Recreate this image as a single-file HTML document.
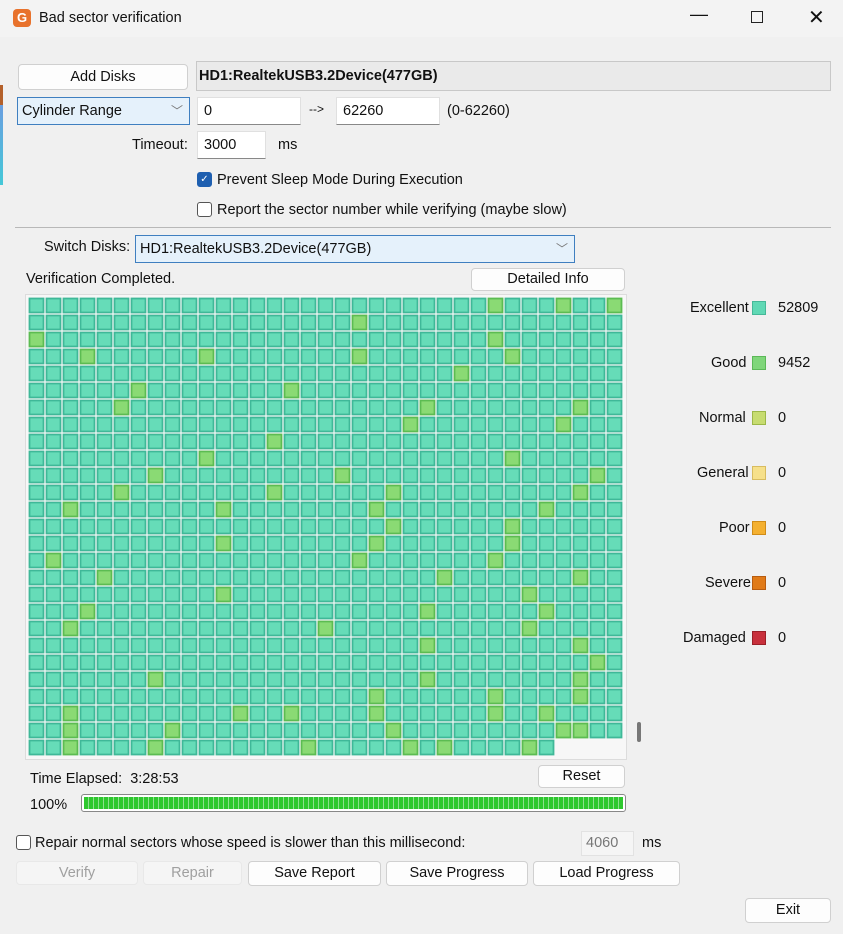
<!DOCTYPE html>
<html><head><meta charset="utf-8"><style>
*{box-sizing:border-box;margin:0;padding:0}
body{width:843px;height:934px;background:#f0f0f0;font-family:"Liberation Sans",sans-serif;font-size:14.5px;color:#111;position:relative;overflow:hidden}
.a{position:absolute;white-space:nowrap}
.btn{position:absolute;background:#fdfdfd;border:1px solid #d0d0d0;border-radius:4px;text-align:center;font-size:14.5px}
.btn.dis{background:#f5f5f5;color:#a0a0a0;border-color:#e8e8e8}
.inp{position:absolute;background:#fff;border:1px solid #e0e0e0;border-bottom:1px solid #888;padding-left:6px;font-size:14.5px}
.cb{position:absolute;width:15px;height:15px;border:1px solid #555;border-radius:3px;background:#fff}
.lg{position:absolute;width:14px;height:14px;border:1px solid}
</style></head><body>
<div class="a" style="left:0;top:0;width:843px;height:37px;background:#f3f3f3"></div>
<div class="a" style="left:13px;top:9px;width:18px;height:18px;background:#e8722c;border-radius:4px;color:#fff;font-weight:bold;font-size:13px;text-align:center;line-height:18px">G</div>
<div class="a" style="left:39px;top:10px;font-size:14.5px">Bad sector verification</div>
<div class="a" style="left:690px;top:4px;font-size:18px">—</div>
<div class="a" style="left:751px;top:11px;width:12px;height:12px;border:1.5px solid #222"></div>
<div class="a" style="left:808px;top:5px;font-size:20px">✕</div>
<div class="a" style="left:0;top:85px;width:3px;height:20px;background:#b4602a"></div>
<div class="a" style="left:0;top:105px;width:3px;height:80px;background:linear-gradient(#6a9ee0,#45c8d8)"></div>

<div class="btn" style="left:18px;top:64px;width:170px;height:26px;line-height:24px">Add Disks</div>
<div class="a" style="left:196px;top:61px;width:635px;height:30px;background:#eaeaea;border:1px solid #c8c8c8;padding-left:2px;line-height:28px;font-weight:bold">HD1:RealtekUSB3.2Device(477GB)</div>
<div class="a" style="left:17px;top:97px;width:173px;height:28px;background:#e5f1fb;border:1px solid #3f7fc0;line-height:26px;padding-left:4px">Cylinder Range<span style="position:absolute;right:6px;color:#777;font-size:12px">﹀</span></div>
<div class="inp" style="left:197px;top:97px;width:104px;height:28px;line-height:26px">0</div>
<div class="a" style="left:309px;top:102px;font-size:12px">--&gt;</div>
<div class="inp" style="left:336px;top:97px;width:104px;height:28px;line-height:26px">62260</div>
<div class="a" style="left:447px;top:103px">(0-62260)</div>
<div class="a" style="left:132px;top:137px">Timeout:</div>
<div class="inp" style="left:197px;top:131px;width:69px;height:28px;line-height:26px">3000</div>
<div class="a" style="left:278px;top:137px">ms</div>
<div class="cb" style="left:197px;top:172px;background:#1e5fb0;border-color:#1e5fb0;color:#fff;font-size:10px;text-align:center;line-height:13px">✓</div>
<div class="a" style="left:217px;top:172px">Prevent Sleep Mode During Execution</div>
<div class="cb" style="left:197px;top:202px"></div>
<div class="a" style="left:217px;top:202px">Report the sector number while verifying (maybe slow)</div>
<div class="a" style="left:15px;top:227px;width:816px;height:1px;background:#b8b8b8"></div>

<div class="a" style="left:44px;top:239px">Switch Disks:</div>
<div class="a" style="left:135px;top:235px;width:440px;height:28px;background:#e5f1fb;border:1px solid #3f7fc0;line-height:26px;padding-left:4px">HD1:RealtekUSB3.2Device(477GB)<span style="position:absolute;right:6px;color:#777;font-size:12px">﹀</span></div>
<div class="a" style="left:26px;top:271px">Verification Completed.</div>
<div class="btn" style="left:471px;top:268px;width:154px;height:23px;line-height:21px">Detailed Info</div>

<div class="a" style="left:25px;top:294px;width:602px;height:466px;background:#f7f7f7;border:1px solid #dcdcdc"></div>
<svg class="a" style="left:0;top:0" width="843" height="934" id="g"></svg>
<div class="a" style="left:637px;top:722px;width:4px;height:20px;background:#777;border-radius:2px"></div>

<div class="a" style="left:690px;top:300px">Excellent</div><div class="lg" style="left:752px;top:301px;background:#5fd8b4;border-color:#45b898"></div><div class="a" style="left:778px;top:300px">52809</div>
<div class="a" style="left:711px;top:355px">Good</div><div class="lg" style="left:752px;top:356px;background:#7fd67a;border-color:#5cb858"></div><div class="a" style="left:778px;top:355px">9452</div>
<div class="a" style="left:699px;top:410px">Normal</div><div class="lg" style="left:752px;top:411px;background:#c7dc70;border-color:#9cb848"></div><div class="a" style="left:778px;top:410px">0</div>
<div class="a" style="left:697px;top:465px">General</div><div class="lg" style="left:752px;top:466px;background:#f6e08a;border-color:#d8bc60"></div><div class="a" style="left:778px;top:465px">0</div>
<div class="a" style="left:719px;top:520px">Poor</div><div class="lg" style="left:752px;top:521px;background:#f4b030;border-color:#d08c18"></div><div class="a" style="left:778px;top:520px">0</div>
<div class="a" style="left:705px;top:575px">Severe</div><div class="lg" style="left:752px;top:576px;background:#e07a18;border-color:#b85c10"></div><div class="a" style="left:778px;top:575px">0</div>
<div class="a" style="left:683px;top:630px">Damaged</div><div class="lg" style="left:752px;top:631px;background:#c8303c;border-color:#9a2028"></div><div class="a" style="left:778px;top:630px">0</div>

<div class="a" style="left:30px;top:771px">Time Elapsed:&nbsp; 3:28:53</div>
<div class="btn" style="left:538px;top:765px;width:87px;height:23px;line-height:21px">Reset</div>
<div class="a" style="left:30px;top:797px">100%</div>
<div class="a" style="left:81px;top:794px;width:545px;height:18px;border:1px solid #888;border-radius:3px;background:#fff;padding:2px">
<div style="width:100%;height:100%;background:repeating-linear-gradient(90deg,#2ec82e 0 4px,#8ee08e 4px 5px)"></div></div>

<div class="cb" style="left:16px;top:835px"></div>
<div class="a" style="left:35px;top:835px">Repair normal sectors whose speed is slower than this millisecond:</div>
<div class="a" style="left:581px;top:831px;width:53px;height:25px;background:#f5f5f5;border:1px solid #e2e2e2;color:#777;line-height:23px;padding-left:4px">4060</div>
<div class="a" style="left:642px;top:835px">ms</div>
<div class="btn dis" style="left:16px;top:861px;width:122px;height:24px;line-height:22px">Verify</div>
<div class="btn dis" style="left:143px;top:861px;width:99px;height:24px;line-height:22px">Repair</div>
<div class="btn" style="left:248px;top:861px;width:133px;height:25px;line-height:23px">Save Report</div>
<div class="btn" style="left:386px;top:861px;width:142px;height:25px;line-height:23px">Save Progress</div>
<div class="btn" style="left:533px;top:861px;width:147px;height:25px;line-height:23px">Load Progress</div>
<div class="btn" style="left:745px;top:898px;width:86px;height:25px;line-height:23px">Exit</div>
<script>
var G={0:[27,31,34],1:[19],2:[0,27],3:[3,10,19,28],4:[25],5:[6,15],6:[5,23,32],7:[22,31],8:[14],9:[10,28],10:[7,18,33],11:[5,14,21,32],12:[2,11,20,30],13:[21,28],14:[11,20,28],15:[1,19,27],16:[4,24,32],17:[11,29],18:[3,23,30],19:[2,17,29],20:[23,32],21:[33],22:[7,23,32],23:[20,27,32],24:[2,12,15,20,27,30],25:[2,8,21,31,32],26:[2,7,16,22,24,29]};
var s='';
for(var r=0;r<27;r++){var n=r==26?31:35;for(var c=0;c<n;c++){var g=G[r].indexOf(c)>=0;
s+='<rect x="'+(29.5+17*c)+'" y="'+(298.5+17*r)+'" width="14" height="14" fill="'+(g?'#8ada74':'#66dcb8')+'" stroke="'+(g?'#5cbc52':'#3fb898')+'" stroke-width="1.8"/>';}}
document.getElementById('g').innerHTML=s;
</script>
</body></html>
